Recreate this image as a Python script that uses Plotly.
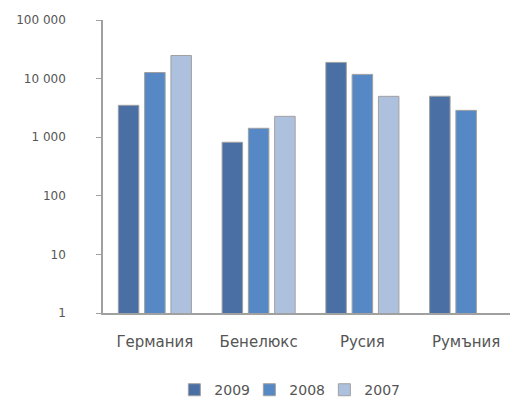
import plotly.graph_objects as go

countries = ["Германия", "Бенелюкс", "Русия", "Румъния"]
years = ["2009", "2008", "2007"]
v2009 = [3500, 820, 18900, 5000]
v2008 = [12700, 1420, 11800, 2870]
v2007 = [24800, 2270, 4980, None]

tick_vals = [1, 10, 100, 1000, 10000, 100000]
tick_text = ["1", "10", "100", "1 000", "10 000", "100 000"]

colors = ["#4a6fa5", "#5688c6", "#adc1df"]

fig = go.Figure()
for name, vals, col in zip(years, [v2009, v2008, v2007], colors):
    fig.add_trace(go.Bar(x=countries, y=vals, name=name, marker_color=col,
                         marker_line=dict(color="#a0a0a0", width=1)))

# page body has an 8px margin, so the figure is a bit smaller than the window
fig.update_layout(
    width=510, height=396,
    margin=dict(l=95, r=0, t=12, b=91),
    plot_bgcolor="white", paper_bgcolor="white",
    barmode="group", bargap=0.24, bargroupgap=0.22,
    font=dict(family="DejaVu Sans", color="#555"),
    legend=dict(orientation="h", x=0.443, xanchor="center",
                yref="container", y=0.035, yanchor="middle",
                font=dict(size=14), entrywidth=30, traceorder="normal"),
    showlegend=True,
)
fig.update_xaxes(showline=True, linecolor="#a0a0a0", linewidth=1.5,
                 tickfont=dict(size=15), ticks="", ticklabelstandoff=14)
fig.update_yaxes(type="log", range=[0, 5], showgrid=False, zeroline=False,
                 showline=True, linecolor="#a0a0a0", linewidth=1.5,
                 ticks="outside", ticklen=5, tickcolor="#a0a0a0",
                 tickvals=tick_vals, ticktext=tick_text,
                 tickfont=dict(size=12), ticklabelstandoff=28)

fig.write_html("out.html")
